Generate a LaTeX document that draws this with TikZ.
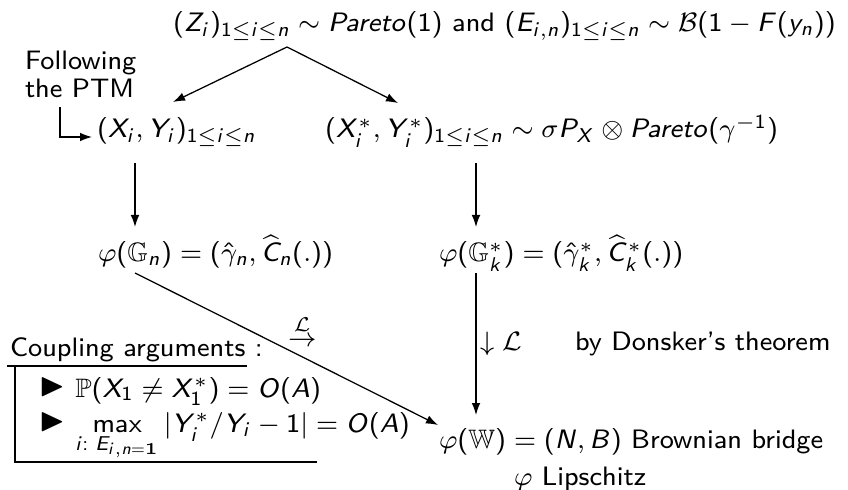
\documentclass[tikz,border=0pt]{standalone}
\usepackage{amssymb}
\usetikzlibrary{arrows.meta}
\DeclareSymbolFont{operators}{OT1}{cmss}{m}{n}
\SetSymbolFont{operators}{bold}{OT1}{cmss}{bx}{n}
\DeclareSymbolFont{sfletters}{OT1}{cmss}{m}{sl}
\def\sfmathletters#1{\ifx#1\relax\else\DeclareMathSymbol{#1}{\mathalpha}{sfletters}{`#1}\expandafter\sfmathletters\fi}
\sfmathletters abcdefghijklmnopqrstuvwxyzABCDEFGHIJKLMNOPQRSTUVWXYZ\relax
\newcommand{\itemtri}{\raisebox{0.1ex}{\scalebox{1.25}{$\blacktriangleright$}}}
\tikzset{
  txt/.style={anchor=base west,inner sep=0pt,outer sep=0pt},
  arr/.style={-{Latex[length=3.6pt,width=2.6pt]},line width=0.38pt},
  ln/.style={line width=0.38pt}
}
\begin{document}
\begin{tikzpicture}[x=0.3pt,y=-0.3pt,font=\sffamily\fontsize{8}{9.6}\selectfont]
\useasboundingbox (0,0) rectangle (848,490);
% text nodes
\node[txt] (top) at (173,32) {$(Z_i)_{1\leq i\leq n}\sim Pareto(1)$ and $(E_{i,n})_{1\leq i\leq n}\sim\mathcal{B}(1-F(y_n))$};
\node[txt] (fol1) at (25,70) {Following};
\node[txt] (fol2) at (25,98) {the PTM};
\node[txt] (xy) at (97,138) {$(X_i,Y_i)_{1\leq i\leq n}$};
\node[txt] (xs) at (325,138) {$(X_i^*,Y_i^*)_{1\leq i\leq n}\sim\sigma P_X\otimes Pareto(\gamma^{-1})$};
\node[txt] (g) at (98,262) {$\varphi(\mathbb{G}_n)=(\hat{\gamma}_n,\widehat{C}_n(.))$};
\node[txt] (gs) at (439,262) {$\varphi(\mathbb{G}_k^*)=(\hat{\gamma}_k^*,\widehat{C}_k^*(.))$};
\node[txt] (conv) at (288,347) {$\stackrel{\mathcal{L}}{\to}$};
\node[txt] (dl) at (480,350) {$\downarrow\mathcal{L}$};
\node[txt] (don) at (575,350) {by Donsker's theorem};
\node[txt] (w) at (439,448) {$\varphi(\mathbb{W})=(N,B)$ Brownian bridge};
\node[txt] (lip) at (514,485) {$\varphi$ Lipschitz};
\node[txt] (coup) at (10,357) {Coupling arguments :};
\node[txt] (it1) at (40,397) {\itemtri\ $\mathbb{P}(X_1\neq X_1^*)=O(A)$};
\node[txt] (it2) at (40,432) {\itemtri\ $\max\limits_{i:\;E_{i,n=\mathbf{1}}}|Y_i^*/Y_i-1|=O(A)$};
% coordinates
\coordinate (apex) at (287,47);
\coordinate (tipL) at (173,102);
\coordinate (tipR) at (398,103);
\coordinate (hk) at (60,107);
\coordinate (hkend) at (92,137);
\coordinate (l1) at (135,163);
\coordinate (l2) at (135,227);
\coordinate (r1) at (476,163);
\coordinate (r2) at (476,227);
\coordinate (d1) at (135,273);
\coordinate (d2) at (438,425);
\coordinate (r3) at (476,273);
\coordinate (r4) at (476,415);
\coordinate (u1) at (7,366);
\coordinate (u2) at (247,366);
\coordinate (b1) at (15,366);
\coordinate (b2) at (15,462);
\coordinate (b3) at (317,462);
% connectors
\draw[arr] (apex) -- (tipL);
\draw[arr] (apex) -- (tipR);
\draw[arr] (hk) |- (hkend);
\draw[arr] (l1) -- (l2);
\draw[arr] (r1) -- (r2);
\draw[arr] (d1) -- (d2);
\draw[arr] (r3) -- (r4);
\draw[ln] (u1) -- (u2);
\draw[ln] (b1) -- (b2) -- (b3);
\end{tikzpicture}
\end{document}
